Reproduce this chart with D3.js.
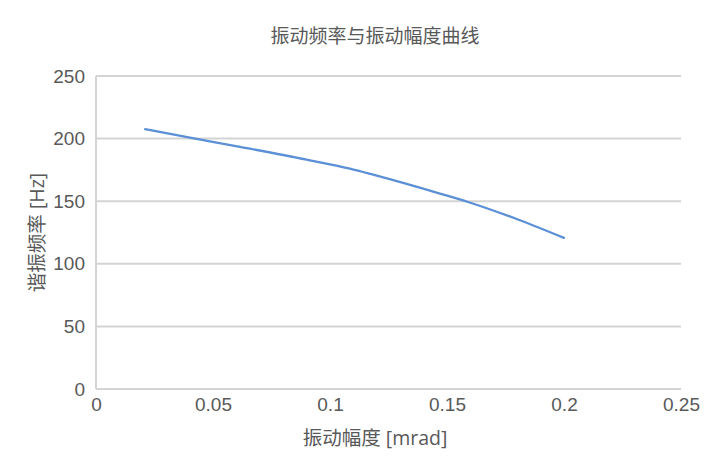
<!DOCTYPE html>
<html>
<head>
<meta charset="utf-8">
<script src="https://cdn.jsdelivr.net/npm/d3@7"></script>
<style>
  body { margin: 0; background: #fff; }
  svg { display: block; font-family: "Open Sans", "Noto Sans CJK SC", sans-serif; }
</style>
</head>
<body>
<svg width="719" height="461"></svg>
<script>
// 振动幅度 [mrad]
const amplitude = [0.021, 0.043, 0.0615, 0.09, 0.1085, 0.1184, 0.147, 0.159, 0.18, 0.2];
// 谐振频率 [Hz]
const frequency = [207.5, 199.8, 193.4, 183.2, 176.0, 171.2, 156.1, 149.4, 135.6, 120.7];
const xTicks = [0, 0.05, 0.1, 0.15, 0.2, 0.25];
const yTicks = [0, 50, 100, 150, 200, 250];

const svg = d3.select("svg");
const margin = { left: 96, right: 38, top: 76, bottom: 72 };
const width = +svg.attr("width");
const height = +svg.attr("height");

const x = d3.scaleLinear().domain([0, 0.25]).range([margin.left, width - margin.right]);
const y = d3.scaleLinear().domain([0, 250]).range([height - margin.bottom, margin.top]);

//сетка
svg.append("g")
    .selectAll("line")
    .data(yTicks)
    .join("line")
    .attr("x1", x(0))
    .attr("x2", x(0.25))
    .attr("y1", d => y(d))
    .attr("y2", d => y(d))
    .attr("stroke", "#d4d4d4")
    .attr("stroke-width", 2);

// ось y (линия слева)
svg.append("line")
    .attr("x1", x(0)).attr("x2", x(0))
    .attr("y1", y(0)).attr("y2", y(250))
    .attr("stroke", "#d4d4d4")
    .attr("stroke-width", 2);

const yAxis = svg.append("g")
    .attr("transform", `translate(${x(0)},0)`)
    .call(d3.axisLeft(y).tickValues(yTicks).tickSize(0).tickPadding(11));
yAxis.select(".domain").remove();
yAxis.selectAll("text")
    .attr("fill", "#595959")
    .style("font-size", "19px");

const xAxis = svg.append("g")
    .attr("transform", `translate(0,${y(0)})`)
    .call(d3.axisBottom(x).tickValues(xTicks).tickSize(0).tickPadding(9)
        .tickFormat(d => d === 0 ? "0" : String(+d.toFixed(2))));
xAxis.select(".domain").remove();
xAxis.selectAll("text")
    .attr("fill", "#595959")
    .style("font-size", "19px");

//линия
const line = d3.line()
    .x((d, i) => x(amplitude[i]))
    .y(d => y(d))
    .curve(d3.curveMonotoneX);

svg.append("path")
    .attr("d", line(frequency))
    .attr("fill", "none")
    .attr("stroke", "#5b8fd6")
    .attr("stroke-width", 2.25)
    .attr("stroke-linecap", "round");

//подписи
svg.append("text")
    .attr("x", 375)
    .attr("y", 43)
    .attr("text-anchor", "middle")
    .attr("fill", "#595959")
    .style("font-size", "19px")
    .text("振动频率与振动幅度曲线");

svg.append("text")
    .attr("x", 375)
    .attr("y", 445)
    .attr("text-anchor", "middle")
    .attr("fill", "#595959")
    .style("font-size", "19.5px")
    .text("振动幅度 [mrad]");

svg.append("text")
    .attr("transform", `translate(44,${(y(0) + y(250)) / 2}) rotate(-90)`)
    .attr("text-anchor", "middle")
    .attr("fill", "#595959")
    .style("font-size", "19.5px")
    .text("谐振频率 [Hz]");
</script>
</body>
</html>
